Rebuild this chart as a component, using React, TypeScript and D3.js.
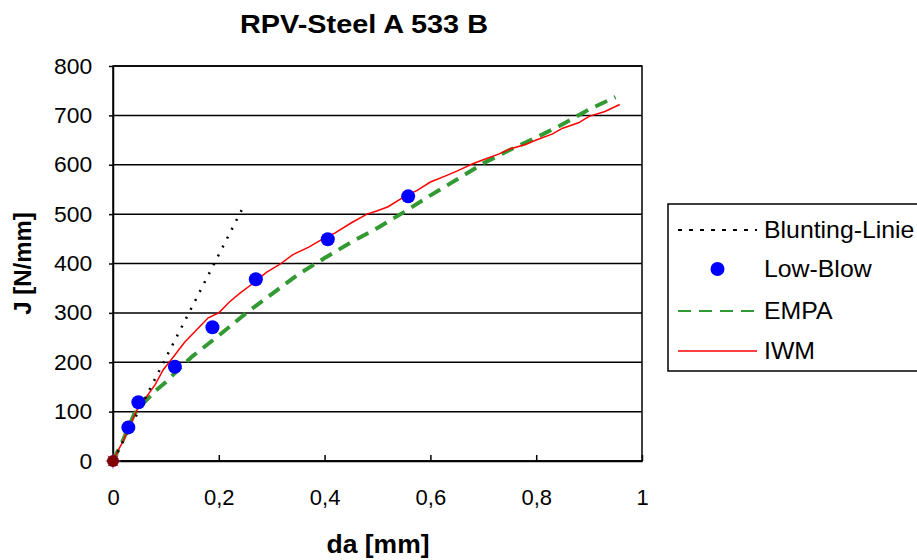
import React, { useEffect, useRef } from "react";
import * as d3 from "d3";

// values
const bluntDa = [0, 0.245];
const bluntJ = [0, 512];

const lowBlowDa = [0.029, 0.048, 0.117, 0.188, 0.27, 0.406, 0.558];
const lowBlowJ = [68, 119, 191, 271, 368, 449, 536];

const empaDa = [0, 0.02, 0.04, 0.06, 0.08, 0.1, 0.13, 0.15, 0.2, 0.25, 0.3, 0.35, 0.4, 0.45, 0.5, 0.55, 0.6, 0.65, 0.7, 0.75, 0.8, 0.85, 0.87, 0.9, 0.95];
const empaJ = [0, 45, 95, 120, 142, 160, 192, 212, 254, 298, 338, 378, 411, 443, 472, 504, 538, 570, 603, 630, 655, 682, 694, 712, 737];

const iwmDa = [0, 0.01, 0.02, 0.045, 0.06, 0.08, 0.095, 0.11, 0.135, 0.16, 0.18, 0.2, 0.22, 0.24, 0.265, 0.29, 0.315, 0.34, 0.37, 0.4, 0.42, 0.45, 0.48, 0.5, 0.52, 0.55, 0.575, 0.6, 0.63, 0.65, 0.68, 0.7, 0.73, 0.75, 0.78, 0.8, 0.83, 0.85, 0.88, 0.9, 0.93, 0.958];
const iwmJ = [0, 22, 42, 103, 125, 155, 185, 205, 240, 268, 290, 300, 322, 340, 360, 382, 398, 418, 433, 452, 462, 482, 500, 507, 515, 535, 548, 565, 578, 587, 602, 610, 622, 632, 641, 650, 662, 674, 685, 698, 708, 722];

const xTicks = [0, 0.2, 0.4, 0.6, 0.8, 1];
const yTicks = [0, 100, 200, 300, 400, 500, 600, 700, 800];

const legendNames = ["Blunting-Linie", "Low-Blow", "EMPA", "IWM"];

const font = "Liberation Sans, Arial, sans-serif";

export default function App() {
  const svgRef = useRef<SVGSVGElement | null>(null);

  useEffect(() => {
    document.body.style.margin = "0";
    if (!svgRef.current) return;
    const svg = d3.select(svgRef.current);
    svg.selectAll("*").remove();

    const left = 113, right = 642, top = 66, bottom = 461;
    const x = d3.scaleLinear().domain([0, 1]).range([left, right]);
    const y = d3.scaleLinear().domain([0, 800]).range([bottom, top]);

    // gridlines
    svg.append("g")
      .selectAll("line")
      .data(yTicks)
      .enter()
      .append("line")
      .attr("x1", left).attr("x2", right)
      .attr("y1", d => y(d)).attr("y2", d => y(d))
      .attr("stroke", "#000").attr("stroke-width", 1.5);

    // plot border
    svg.append("rect")
      .attr("x", left).attr("y", top)
      .attr("width", right - left).attr("height", bottom - top)
      .attr("fill", "none").attr("stroke", "#000").attr("stroke-width", 1.5);

    // axes
    const xAxis = d3.axisBottom(x).tickValues(xTicks).tickSizeInner(-6).tickSizeOuter(0)
      .tickPadding(28).tickFormat(d => String(d).replace(".", ","));
    const gx = svg.append("g").attr("transform", `translate(0,${bottom})`).call(xAxis);
    gx.select(".domain").attr("stroke-width", 1.5);
    gx.selectAll(".tick line").attr("stroke-width", 1.5);
    gx.selectAll("text").attr("font-family", font).attr("font-size", 22).attr("fill", "#000");

    const yAxis = d3.axisLeft(y).tickValues(yTicks).tickSizeInner(4).tickSizeOuter(0).tickPadding(16);
    const gy = svg.append("g").attr("transform", `translate(${left},0)`).call(yAxis);
    gy.select(".domain").attr("stroke-width", 1.5);
    gy.selectAll(".tick line").attr("stroke-width", 1.5);
    gy.selectAll("text").attr("font-family", font).attr("font-size", 22).attr("fill", "#000")
      .attr("transform", "scale(1.04,1)");

    const line = d3.line<[number, number]>().x(d => x(d[0])).y(d => y(d[1]));
    const zip = (a: number[], b: number[]) => a.map((v, i) => [v, b[i]] as [number, number]);

    // EMPA
    svg.append("path")
      .attr("d", line(zip(empaDa, empaJ)))
      .attr("fill", "none").attr("stroke", "#339933")
      .attr("stroke-width", 4).attr("stroke-dasharray", "13,8");

    // IWM
    svg.append("path")
      .attr("d", line(zip(iwmDa, iwmJ)))
      .attr("fill", "none").attr("stroke", "#ff0000").attr("stroke-width", 1.5);

    // Blunting line
    svg.append("path")
      .attr("d", line(zip(bluntDa, bluntJ)))
      .attr("fill", "none").attr("stroke", "#000")
      .attr("stroke-width", 2.5).attr("stroke-dasharray", "2,8");

    // Low-Blow
    svg.append("g")
      .selectAll("circle")
      .data(zip(lowBlowDa, lowBlowJ))
      .enter()
      .append("circle")
      .attr("cx", d => x(d[0])).attr("cy", d => y(d[1])).attr("r", 7)
      .attr("fill", "#0000ff");

    // origin marker
    const ox = x(0), oy = y(0);
    const star = svg.append("g");
    [0, 45, 90, 135].forEach(a => {
      const r = 7.5, rad = (a * Math.PI) / 180;
      star.append("line")
        .attr("x1", ox - r * Math.cos(rad)).attr("y1", oy - r * Math.sin(rad))
        .attr("x2", ox + r * Math.cos(rad)).attr("y2", oy + r * Math.sin(rad))
        .attr("stroke", "#aa33cc").attr("stroke-width", 1);
    });
    svg.append("circle").attr("cx", ox).attr("cy", oy).attr("r", 6).attr("fill", "#800000");

    // titles (the reference text is slightly wider than the font, so stretch horizontally)
    svg.append("text")
      .attr("transform", "translate(364,33) scale(1.11,1)").attr("text-anchor", "middle")
      .attr("font-family", font).attr("font-weight", "bold").attr("font-size", 26)
      .text("RPV-Steel A 533 B");
    svg.append("text")
      .attr("transform", "translate(378,553) scale(1.06,1)").attr("text-anchor", "middle")
      .attr("font-family", font).attr("font-weight", "bold").attr("font-size", 25)
      .text("da [mm]");
    svg.append("text")
      .attr("transform", `translate(31,${(top + bottom) / 2}) rotate(-90)`)
      .attr("text-anchor", "middle")
      .attr("font-family", font).attr("font-weight", "bold").attr("font-size", 24)
      .text("J [N/mm]");

    // legend
    const lg = svg.append("g");
    lg.append("rect")
      .attr("x", 668).attr("y", 204).attr("width", 260).attr("height", 167)
      .attr("fill", "#fff").attr("stroke", "#000").attr("stroke-width", 1.5);
    const rows = [230, 269, 311, 351];
    const lx1 = 678, lx2 = 757;
    lg.append("line").attr("x1", lx1).attr("x2", lx2).attr("y1", rows[0]).attr("y2", rows[0])
      .attr("stroke", "#000").attr("stroke-width", 2).attr("stroke-dasharray", "4,7");
    lg.append("circle").attr("cx", (lx1 + lx2) / 2).attr("cy", rows[1]).attr("r", 7).attr("fill", "#0000ff");
    lg.append("line").attr("x1", lx1).attr("x2", lx2).attr("y1", rows[2]).attr("y2", rows[2])
      .attr("stroke", "#339933").attr("stroke-width", 2).attr("stroke-dasharray", "13,8");
    lg.append("line").attr("x1", lx1).attr("x2", lx2).attr("y1", rows[3]).attr("y2", rows[3])
      .attr("stroke", "#ff0000").attr("stroke-width", 1.5);
    legendNames.forEach((n, i) => {
      lg.append("text")
        .attr("transform", `translate(764,${rows[i] + 8}) scale(1.08,1)`)
        .attr("font-family", font).attr("font-size", 23)
        .text(n);
    });
  }, []);

  return <svg ref={svgRef} width={917} height={560} style={{ display: "block", background: "#fff" }} />;
}
